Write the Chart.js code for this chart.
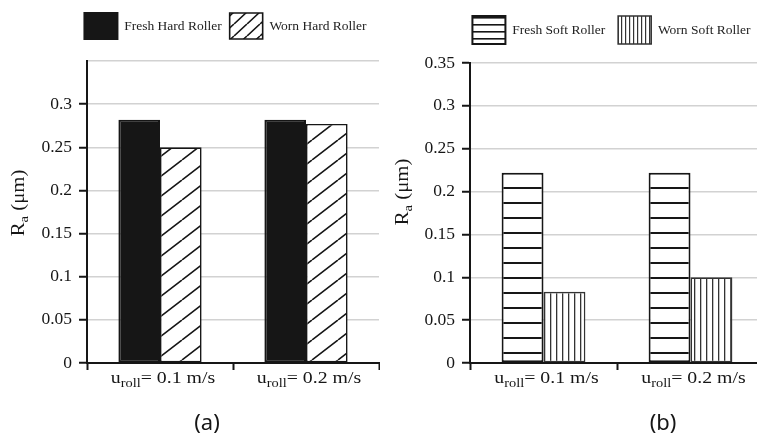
<!DOCTYPE html>
<html>
<head>
<meta charset="utf-8">
<script src="https://cdn.jsdelivr.net/npm/chart.js@4.4.1/dist/chart.umd.min.js"></script>
<style>
    html, body { margin: 0; padding: 0; background: #fff; overflow: hidden; }
    #wrap { position: relative; width: 757px; height: 439px; overflow: hidden; }
    #wrap canvas { position: absolute; top: 0; }
    #hardChart { left: 0; }
    #softChart { left: 380px; }
</style>
</head>
<body>
<div id="wrap">
    <canvas id="hardChart" width="380" height="439"></canvas>
    <canvas id="softChart" width="390" height="439"></canvas>
</div>
<script>
// rolling speeds (categories) and Ra values in µm
const speeds = ['0.1 m/s', '0.2 m/s'];
const freshHard = [0.282, 0.282];
const wornHard = [0.25, 0.277];
const freshSoft = [0.222, 0.222];
const wornSoft = [0.083, 0.1];
const yMax = 0.35;
const yStep = 0.05;

const INK = '#161616';
const SERIF = '"Liberation Serif", "Times New Roman", serif';

// ==================== FILL PATTERNS ====================
function makePattern(w, h, draw) {
    const c = document.createElement('canvas');
    c.width = w;
    c.height = h;
    const g = c.getContext('2d');
    g.fillStyle = '#fff';
    g.fillRect(0, 0, w, h);
    draw(g, w, h);
    return g.createPattern(c, 'repeat');
}

function diagonal(w, h, lw) {
    return makePattern(w, h, (g) => {
        g.strokeStyle = INK;
        g.lineWidth = lw;
        g.beginPath();
        for (let k = -1; k <= 1; k++) {
            g.moveTo(k * w, h);
            g.lineTo((k + 1) * w, 0);
        }
        g.stroke();
    });
}

function hStripes(h, lw) {
    return makePattern(8, h, (g) => {
        g.fillStyle = INK;
        g.fillRect(0, Math.round(h / 2 - lw / 2), 8, lw);
    });
}

function vStripes(w, lw) {
    return makePattern(w, 8, (g) => {
        g.fillStyle = '#333';
        g.fillRect(Math.round(w / 2 - lw / 2), 0, lw, 8);
    });
}

// ==================== TEXT WITH SUBSCRIPTS ====================
// parts: [text, isSub]; stretch widens the run horizontally
function drawParts(ctx, parts, x, y, size, stretch) {
    const mainFont = size + 'px ' + SERIF;
    const subFont = Math.round(size * 0.7) + 'px ' + SERIF;
    let total = 0;
    const widths = parts.map(p => {
        ctx.font = p[1] ? subFont : mainFont;
        const w = ctx.measureText(p[0]).width;
        total += w;
        return w;
    });
    ctx.save();
    ctx.translate(x, y);
    ctx.scale(stretch || 1, 1);
    let cx = -total / 2;
    ctx.textAlign = 'left';
    ctx.textBaseline = 'alphabetic';
    parts.forEach((p, i) => {
        ctx.font = p[1] ? subFont : mainFont;
        ctx.fillText(p[0], cx, p[1] ? 4 : 0);
        cx += widths[i];
    });
    ctx.restore();
}

const panelText = {
    id: 'panelText',
    afterDraw(chart, args, opts) {
        const ctx = chart.ctx;
        const xs = chart.scales.x;
        ctx.save();
        ctx.fillStyle = INK;

        // category labels: u_roll = v
        chart.data.labels.forEach((lab, i) => {
            drawParts(ctx, [['u', 0], ['roll', 1], ['= ' + lab, 0]], xs.getPixelForTick(i) + 3, xs.top + 20, 16.5, 1.2);
        });

        // caption under the panel
        ctx.font = '22px "Noto Sans", sans-serif';
        ctx.textAlign = 'center';
        ctx.textBaseline = 'alphabetic';
        ctx.fillText(opts.caption, opts.captionX, 430);

        // rotated y title: R_a (µm)
        ctx.translate(opts.titleX, opts.titleY);
        ctx.rotate(-Math.PI / 2);
        drawParts(ctx, [['R', 0], ['a', 1], [' (\u03bcm)', 0]], 0, 5, 18, 1.15);
        ctx.restore();
    }
};

// legend row: extra gap below it and its own horizontal span
function legendPlace(extra, left, right) {
    return {
        id: 'legendPlace',
        beforeInit(chart) {
            const legend = chart.legend;
            const fit = legend.fit;
            legend.fit = function() {
                fit.call(this);
                this.height += extra;
            };
        },
        afterLayout(chart) {
            chart.legend.left = left;
            chart.legend.right = right;
        }
    };
}

// ==================== CHART FACTORY ====================
function rollerChart(canvasId, cfg) {
    return new Chart(document.getElementById(canvasId), {
        type: 'bar',
        data: {
            labels: speeds,
            datasets: [
                {
                    label: cfg.names[0],
                    data: cfg.series[0],
                    backgroundColor: cfg.fills[0],
                    borderColor: INK,
                    borderWidth: 2,
                    borderSkipped: false,
                    categoryPercentage: 0.57,
                    barPercentage: 1
                },
                {
                    label: cfg.names[1],
                    data: cfg.series[1],
                    backgroundColor: cfg.fills[1],
                    borderColor: cfg.edge,
                    borderWidth: 1.6,
                    borderSkipped: false,
                    categoryPercentage: 0.57,
                    barPercentage: 1
                }
            ]
        },
        options: {
            responsive: false,
            animation: false,
            layout: { padding: cfg.padding },
            plugins: {
                legend: {
                    position: 'top',
                    labels: {
                        boxWidth: 33,
                        boxHeight: cfg.boxHeight,
                        padding: cfg.legendPad,
                        color: '#222',
                        font: { family: SERIF, size: 13.5 },
                        generateLabels(chart) {
                            const items = Chart.defaults.plugins.legend.labels.generateLabels(chart);
                            items.forEach((it, i) => { it.fillStyle = cfg.legendFills[i]; });
                            return items;
                        }
                    }
                },
                tooltip: { enabled: false },
                panelText: cfg.text
            },
            scales: {
                x: {
                    offset: true,
                    grid: {
                        display: true,
                        drawOnChartArea: false,
                        drawTicks: true,
                        tickLength: 7,
                        tickWidth: 2,
                        tickColor: INK,
                        offset: true
                    },
                    border: { color: INK, width: 2 },
                    ticks: { display: false },
                    afterFit(s) { s.height = 76; }
                },
                y: {
                    min: 0,
                    max: yMax,
                    ticks: {
                        stepSize: yStep,
                        padding: 7,
                        color: INK,
                        font: { family: SERIF, size: 17.5 },
                        callback: v => (cfg.hideTop && v > yMax - 1e-6) ? '' : String(+v.toFixed(2))
                    },
                    grid: {
                        color: '#d2d2d2',
                        lineWidth: 1.5,
                        tickLength: 8,
                        tickWidth: 2,
                        tickColor: c => (cfg.hideTop && c.tick && c.tick.value > yMax - 1e-6) ? 'rgba(0,0,0,0)' : INK
                    },
                    border: { color: INK, width: 2 },
                    afterFit(s) { s.width = cfg.axisWidth; }
                }
            }
        },
        plugins: [panelText, legendPlace(cfg.gap, cfg.legendSpan[0], cfg.legendSpan[1])]
    });
}

// --- HARD ROLLER PANEL ---
rollerChart('hardChart', {
    names: ['Fresh Hard Roller', 'Worn Hard Roller'],
    series: [freshHard, wornHard],
    fills: [INK, diagonal(26, 20, 1.6)],
    legendFills: [INK, diagonal(13, 12, 1.6)],
    edge: INK,
    padding: { top: 5, left: 0, right: 1, bottom: 0 },
    axisWidth: 87,
    legendSpan: [72, 379],
    boxHeight: 26,
    legendPad: 8,
    gap: 12,
    hideTop: true,
    text: { caption: '(a)', captionX: 207, titleX: 19, titleY: 203 }
});

// --- SOFT ROLLER PANEL ---
rollerChart('softChart', {
    names: ['Fresh Soft Roller', 'Worn Soft Roller'],
    series: [freshSoft, wornSoft],
    fills: [hStripes(15, 2), vStripes(6, 1.3)],
    legendFills: [hStripes(7, 1.6), vStripes(4, 1.2)],
    edge: '#333',
    padding: { top: 3, left: 0, right: 6, bottom: 0 },
    axisWidth: 90,
    legendSpan: [79, 384],
    boxHeight: 28,
    legendPad: 13,
    gap: 9,
    hideTop: false,
    text: { caption: '(b)', captionX: 283, titleX: 23, titleY: 192 }
});
</script>
</body>
</html>
